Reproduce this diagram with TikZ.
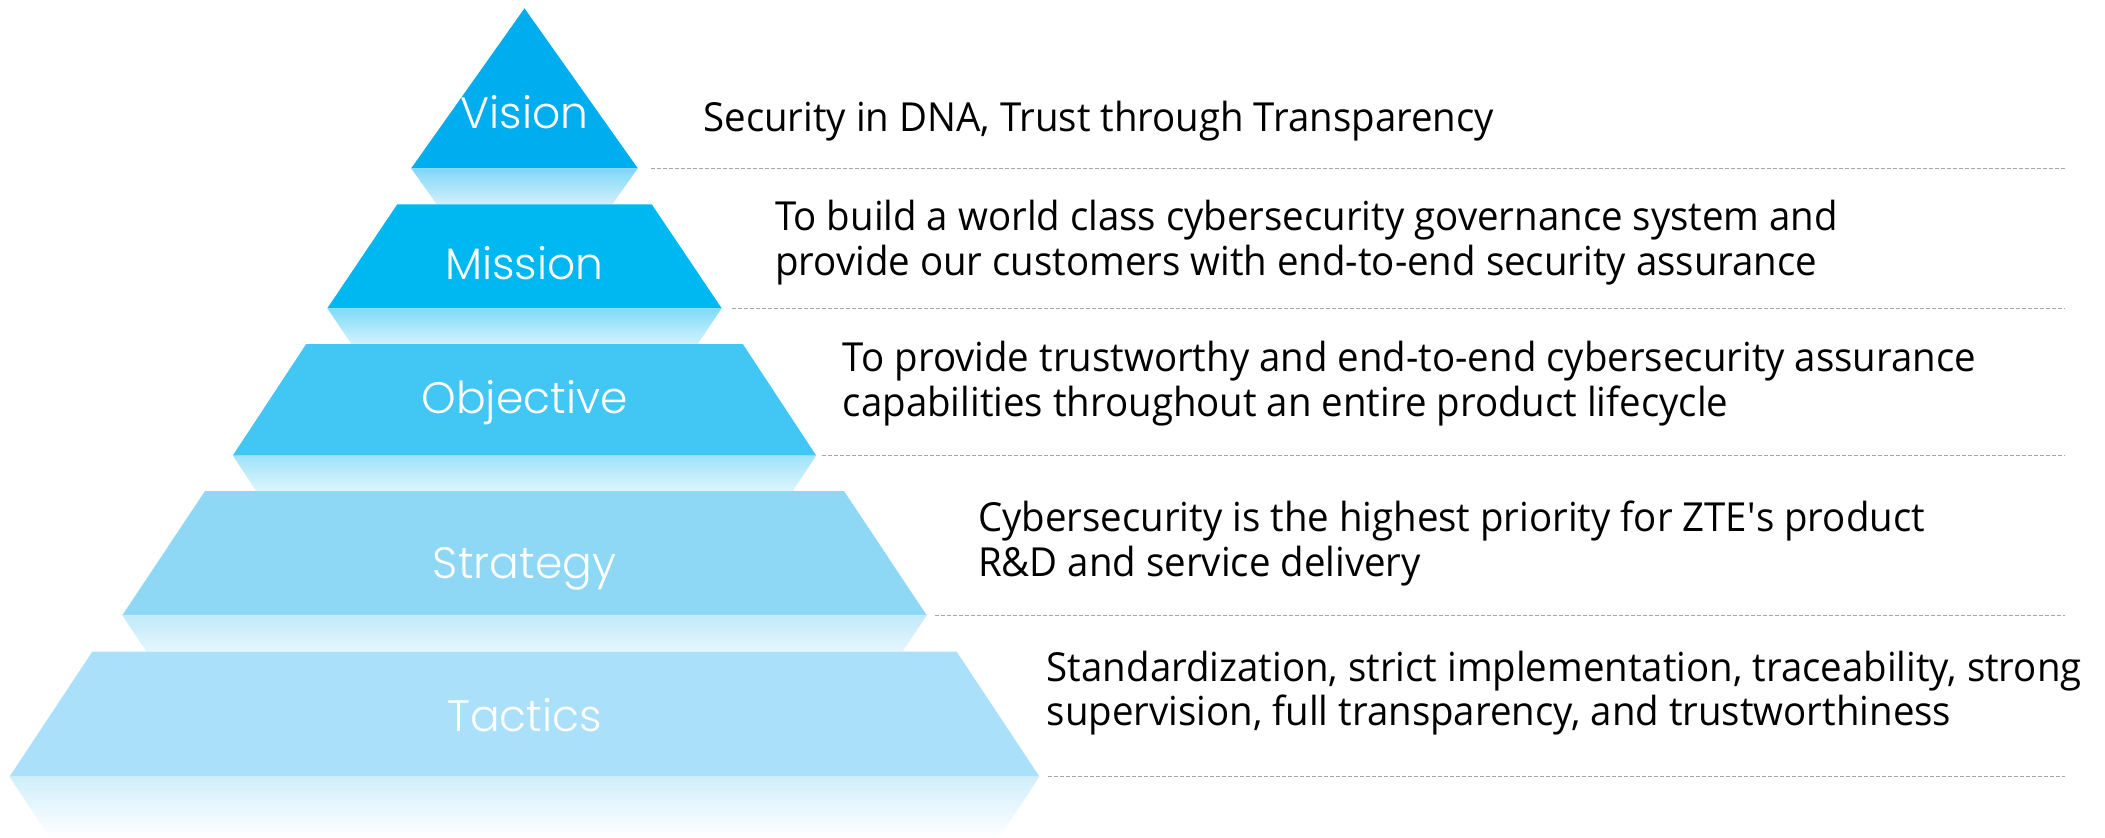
\documentclass[tikz,border=0pt]{standalone}
\usepackage{fontspec}
\setmainfont{Open Sans}[FakeStretch=0.96]
\newfontfamily\labelfont{Poppins Light}
\definecolor{cVision}{HTML}{00AEEF}
\definecolor{cMission}{HTML}{00B8F1}
\definecolor{cObjective}{HTML}{42C7F4}
\definecolor{cStrategy}{HTML}{8ED8F6}
\definecolor{cTactics}{HTML}{ABE0FA}
\definecolor{sepgray}{HTML}{A6A6A6}
\tikzset{
  layerlabel/.style={text=white, inner sep=0pt, anchor=base, font=\labelfont\fontsize{44}{48}\selectfont},
  desc/.style={text=black, inner sep=0pt, anchor=base west, font=\fontsize{40}{45}\selectfont},
  sepline/.style={draw=sepgray, line width=1.2pt, dash pattern=on 4pt off 2pt},
}
\begin{document}
\begin{tikzpicture}[x=1pt,y=-1pt]
\useasboundingbox (0,0) rectangle (2105,838);
% Vision
\fill[cVision] (524.5,8.3) -- (637.8,168.3) -- (411.2,168.3) -- cycle;
\shade[top color=cVision!50!white, bottom color=cVision!18!white] (411.2,168.3) -- (637.8,168.3) -- (612.3,204.3) -- (436.7,204.3) -- cycle;
% Mission
\fill[cMission] (397.3,204.3) -- (651.7,204.3) -- (721.7,308.3) -- (327.3,308.3) -- cycle;
\shade[top color=cMission!50!white, bottom color=cMission!18!white] (327.3,308.3) -- (721.7,308.3) -- (697.7,344) -- (351.3,344) -- cycle;
% Objective
\fill[cObjective] (306.2,344) -- (742.8,344) -- (816.2,455.5) -- (232.8,455.5) -- cycle;
\shade[top color=cObjective!50!white, bottom color=cObjective!18!white] (232.8,455.5) -- (816.2,455.5) -- (792.8,491) -- (256.2,491) -- cycle;
% Strategy
\fill[cStrategy] (205,491) -- (844,491) -- (926.7,615.3) -- (122.3,615.3) -- cycle;
\shade[top color=cStrategy!55!white, bottom color=cStrategy!22!white] (122.3,615.3) -- (926.7,615.3) -- (902.5,651.7) -- (146.5,651.7) -- cycle;
% Tactics
\fill[cTactics] (92.3,651.7) -- (956.7,651.7) -- (1039.5,776.7) -- (9.5,776.7) -- cycle;
\shade[top color=cTactics!55!white, bottom color=white] (9.5,776.7) -- (1039.5,776.7) -- (998.9,838) -- (50.1,838) -- cycle;

% labels
\node[layerlabel] (lv) at (524.5,128.3) {Vision};
\node[layerlabel] (lm) at (524.5,279.3) {Mission};
\node[layerlabel] (lo) at (524.5,413.5) {Objective};
\node[layerlabel] (ls) at (524.5,578.3) {Strategy};
\node[layerlabel] (lt) at (524.5,731) {Tactics};

% separators
\coordinate (sv) at (651,168.3);
\coordinate (sm) at (732,308.3);
\coordinate (so) at (822,455.5);
\coordinate (ss) at (935,615.3);
\coordinate (st) at (1048,776.7);
\coordinate (ev) at (2065,168.3);
\coordinate (em) at (2065,308.3);
\coordinate (eo) at (2065,455.5);
\coordinate (es) at (2065,615.3);
\coordinate (et) at (2065,776.7);
\draw[sepline] (sv) -- (ev);
\draw[sepline] (sm) -- (em);
\draw[sepline] (so) -- (eo);
\draw[sepline] (ss) -- (es);
\draw[sepline] (st) -- (et);

% descriptions
\node[desc] (v1) at (703.3,131.7) {Security in DNA, Trust through Transparency};
\node[desc] (m1) at (775,230) {To build a world class cybersecurity governance system and};
\node[desc] (m2) at (775,275) {provide our customers with end-to-end security assurance};
\node[desc] (o1) at (842.7,371.7) {To provide trustworthy and end-to-end cybersecurity assurance};
\node[desc] (o2) at (842.7,416.7) {capabilities throughout an entire product lifecycle};
\node[desc] (s1) at (978,531.7) {Cybersecurity is the highest priority for ZTE\textquotesingle s product};
\node[desc] (s2) at (978,576.7) {R\&D and service delivery};
\node[desc] (t1) at (1046.7,681) {Standardization, strict implementation, traceability, strong};
\node[desc] (t2) at (1046.7,725) {supervision, full transparency, and trustworthiness};
\end{tikzpicture}
\end{document}
